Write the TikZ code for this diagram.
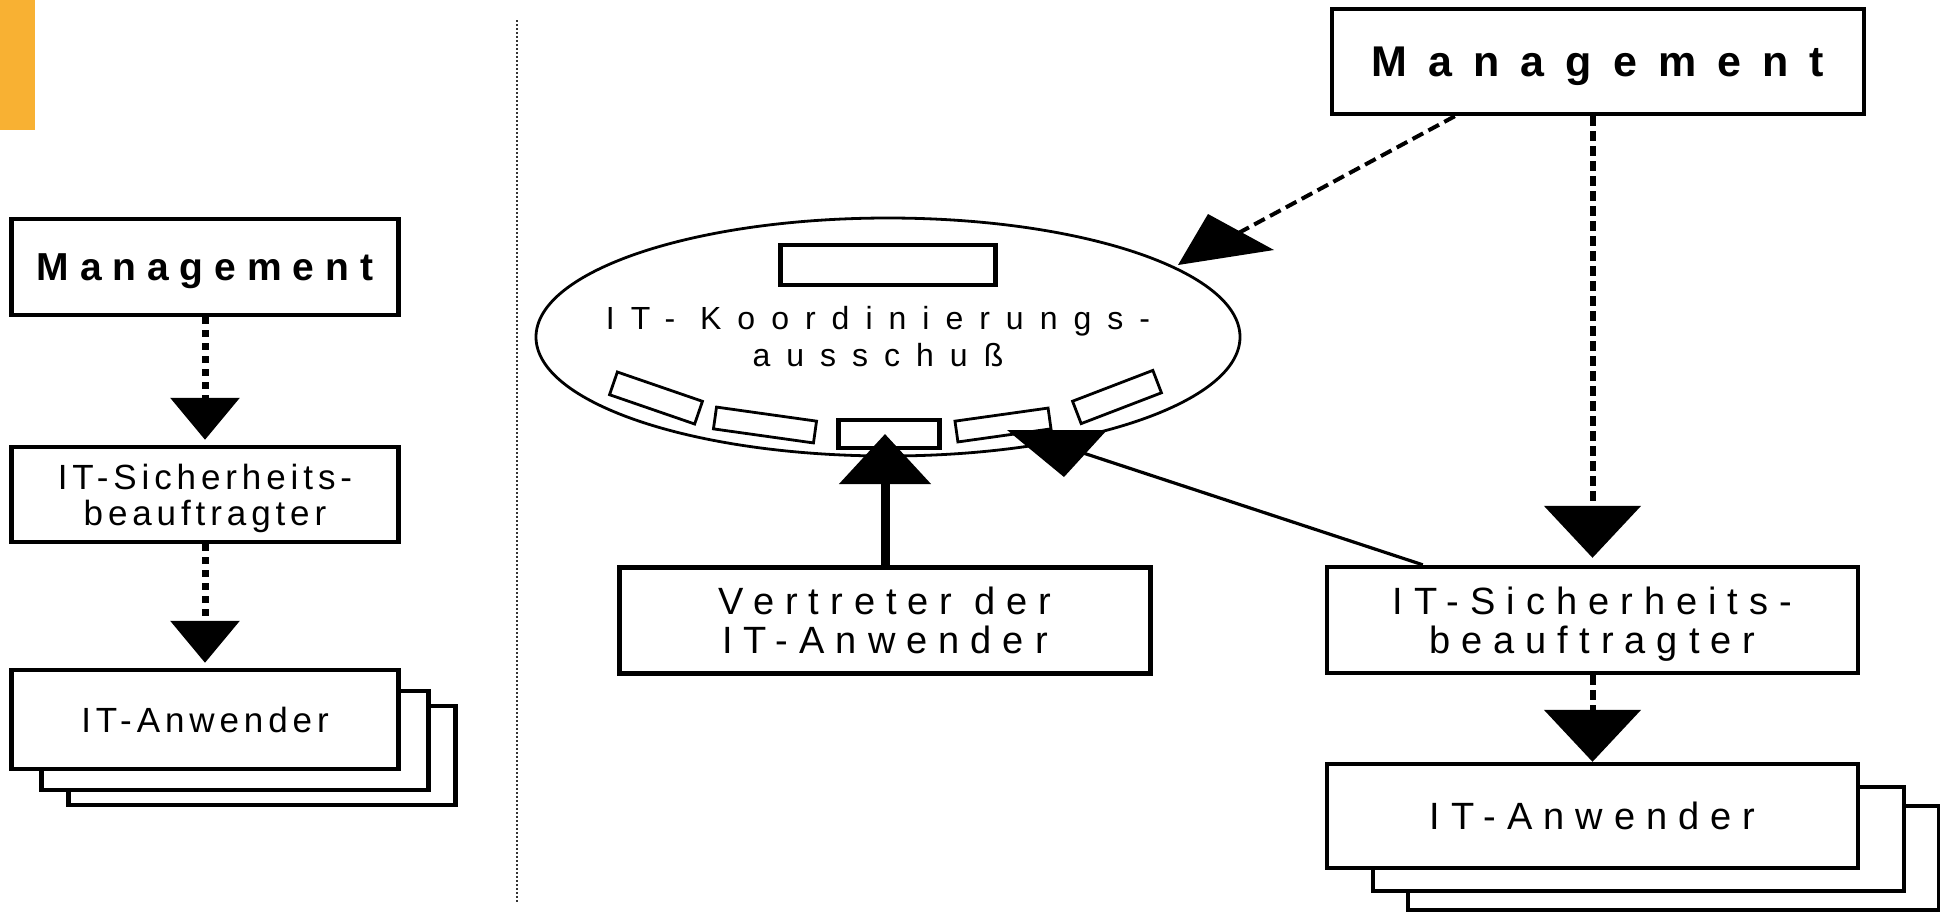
\documentclass[tikz,border=0pt]{standalone}
\usepackage{fontspec}
\setmainfont{Liberation Sans}
\usetikzlibrary{arrows.meta,positioning,shapes.geometric,calc}
\definecolor{itorange}{HTML}{F8B133}
\newcommand{\fntMgmtL}{\fontsize{19.5pt}{22pt}\selectfont\bfseries\addfontfeature{LetterSpace=28}}
\newcommand{\fntMgmtR}{\fontsize{21.5pt}{24pt}\selectfont\bfseries\addfontfeature{LetterSpace=49}}
\newcommand{\fntBoxL}{\fontsize{17.5pt}{18pt}\selectfont\addfontfeature{LetterSpace=14}}
\newcommand{\fntBoxR}{\fontsize{19pt}{19.5pt}\selectfont\addfontfeature{LetterSpace=29}}
\newcommand{\fntKoord}{\fontsize{16pt}{18.5pt}\selectfont\addfontfeature{LetterSpace=50}}
\tikzset{
  box/.style={rectangle, draw=black, line width=2.2pt, fill=white,
              align=center, inner sep=0pt, text depth=0pt},
  boxL/.style={box, minimum width=193.5pt, font=\fntBoxL},
  boxR/.style={box, minimum width=265.5pt, minimum height=53pt, font=\fntBoxR},
  seat/.style={rectangle, draw=black, line width=1.4pt, inner sep=0pt},
  arL/.style={-{Triangle[length=21pt,width=34pt]}, line width=3.5pt,
              dash pattern=on 3.5pt off 3pt, shorten >=2.5pt},
  arR/.style={-{Triangle[length=26pt,width=48pt]}, line width=3pt,
              dash pattern=on 5pt off 2.5pt},
  arM/.style={line width=2pt, dash pattern=on 6pt off 3pt},
  arV/.style={-{Triangle[length=25pt,width=45pt]}, line width=4.5pt},
}
\begin{document}
\begin{tikzpicture}[x=0.5pt,y=0.5pt]
\useasboundingbox (0,0) rectangle (1940,-912);

% ---------- marker and separator ----------
\fill[itorange] (0,0) rectangle (35,-130);
\draw[line width=1pt, dash pattern=on 1pt off 1pt, black!80] (517,-20) -- (517,-903);

% ---------- left: simple hierarchy ----------
\node[boxL, minimum height=48pt, font=\fntMgmtL] (mgmtL) at (205,-267) {Management};
\node[boxL, minimum height=47.5pt] (sbL) at (205,-494.5) {IT-Sicherheits-\\beauftragter};
\node[boxL, minimum height=49.5pt] (anwL3) at (262,-755.5) {};
\node[boxL, minimum height=49.5pt] (anwL2) at (235,-740.5) {};
\node[boxL, minimum height=49.5pt] (anwL) at (205,-719.5) {IT-Anwender};
\draw[arL] (mgmtL) -- (sbL);
\draw[arL] (sbL) -- (anwL);

% ---------- right: committee ----------
\node[ellipse, draw=black, line width=1.4pt, minimum width=352pt,
      minimum height=119pt, inner sep=0pt] (koord) at (888,-337) {};
\node[font=\fntKoord, align=center, inner sep=0pt] (koordlbl) at (878,-337)
   {IT- Koordinierungs-\\ausschuß};
\node[box, minimum width=107.5pt, minimum height=20pt] (head) at (888,-265) {};
\node[seat, minimum width=45pt, minimum height=12pt, rotate=-19] (seat1) at (656,-398) {};
\node[seat, minimum width=50.5pt, minimum height=11pt, rotate=-8] (seat2) at (765,-425) {};
\node[seat, minimum width=47pt, minimum height=10.5pt, rotate=8] (seat3) at (1003,-425) {};
\node[seat, minimum width=43pt, minimum height=12pt, rotate=21] (seat4) at (1117,-397) {};
\node[box, minimum width=50.5pt, minimum height=14pt] (chair) at (889,-434) {};

\node[boxR, minimum width=266pt, minimum height=52.5pt, font=\fntMgmtR] (mgmtR) at (1598,-61.5) {Management};
\node[boxR] (vert) at (885,-620.5) {Vertreter der\\IT-Anwender};
\node[boxR] (sbR) at (1592.5,-620) {IT-Sicherheits-\\beauftragter};
\node[boxR, minimum height=52pt] (anwR3) at (1673.5,-858) {};
\node[boxR, minimum height=52pt] (anwR2) at (1638.5,-839) {};
\node[boxR, minimum height=52pt] (anwR) at (1592.5,-816) {IT-Anwender};

% ---------- right: connectors ----------
\draw[arR, shorten >=3.5pt] (mgmtR.south -| sbR) -- (sbR.north);
\draw[arR] (sbR) -- (anwR);
\coordinate (mgtip) at (1220,-243);
\draw[arM] ($(mgmtR.south west)+(125,0)$) -- (mgtip);
\fill ([shift={(-12,29)}]mgtip) -- ([shift={(54,-7)}]mgtip) -- ([shift={(-42,-22)}]mgtip) -- cycle;
\draw[arV] (vert.north) -- (vert.north |- chair.center);
\coordinate (sbtip) at (1062,-446);
\draw[line width=1.6pt] ($(sbR.north west)+(98,0)$) -- (sbtip);
\fill ([shift={(-55,16)}]sbtip) -- ([shift={(45,16)}]sbtip) -- ([shift={(2,-31)}]sbtip) -- cycle;
\end{tikzpicture}
\end{document}
